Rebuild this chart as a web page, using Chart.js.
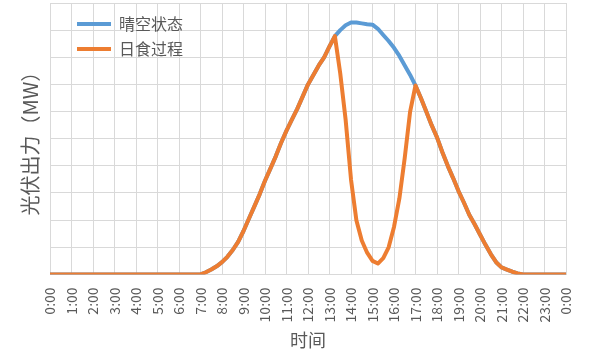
<!DOCTYPE html>
<html>
<head>
<meta charset="utf-8">
<script src="https://cdn.jsdelivr.net/npm/chart.js@4/dist/chart.umd.min.js"></script>
<style>
  html, body { margin: 0; padding: 0; background: #ffffff; }
  #c { display: block; }
</style>
</head>
<body>
<canvas id="c" width="600" height="357"></canvas>
<script>
// Time of day in hours (x values)
const times = [0,1,2,3,4,5,6,7,
  7.25,7.5,7.75,8,8.25,8.5,8.75,9,9.25,9.5,9.75,10,10.25,10.5,10.75,11,
  11.25,11.5,11.75,12,12.25,12.5,12.75,13,13.25,13.5,13.75,14,14.25,14.5,14.75,15,
  15.25,15.5,15.75,16,16.25,16.5,16.75,17,17.25,17.5,17.75,18,18.25,18.5,18.75,19,
  19.25,19.5,19.75,20,20.25,20.5,20.75,21,21.25,21.5,21.75,22,23,24];

// Clear-sky PV output (grid units)
const clearSky = [0,0,0,0,0,0,0,0,
  0.08,0.18,0.3,0.45,0.65,0.9,1.2,1.6,2.05,2.5,2.95,3.45,3.9,4.35,4.85,5.3,
  5.7,6.1,6.55,7.0,7.35,7.7,8.0,8.4,8.78,9.0,9.18,9.28,9.28,9.25,9.22,9.2,
  9.05,8.82,8.6,8.35,8.05,7.7,7.35,6.96,6.5,6.0,5.5,5.05,4.5,4.0,3.55,3.07,
  2.65,2.2,1.85,1.47,1.1,0.75,0.45,0.26,0.18,0.1,0.04,0,0,0];

// PV output during the solar eclipse (grid units)
const eclipse = [0,0,0,0,0,0,0,0,
  0.08,0.18,0.3,0.45,0.65,0.9,1.2,1.6,2.05,2.5,2.95,3.45,3.9,4.35,4.85,5.3,
  5.7,6.1,6.55,7.0,7.35,7.7,8.0,8.4,8.78,7.4,5.7,3.5,2.0,1.25,0.8,0.5,
  0.4,0.6,1.0,1.75,2.8,4.3,6.0,6.96,6.5,6.0,5.5,5.05,4.5,4.0,3.55,3.07,
  2.65,2.2,1.85,1.47,1.1,0.75,0.45,0.26,0.18,0.1,0.04,0,0,0];

const hourLabels = ['0:00','1:00','2:00','3:00','4:00','5:00','6:00','7:00','8:00','9:00',
  '10:00','11:00','12:00','13:00','14:00','15:00','16:00','17:00','18:00','19:00',
  '20:00','21:00','22:00','23:00','0:00'];

const seriesNames = ['晴空状态', '日食过程'];
const yTitle = '光伏出力（MW）';
const xTitle = '时间';

const FONT = "'Noto Sans CJK SC', 'Noto Sans', sans-serif";
const TEXT = '#595959';
const GRID = '#d9d9d9';
const BLUE = '#5B9BD5';
const ORANGE = '#ED7D31';

const toPts = (vals) => times.map((t, i) => ({ x: t, y: vals[i] }));

const legendOffset = {
  id: 'legendOffset',
  afterLayout(chart) {
    const l = chart.legend;
    if (l) { l.left += 18; l.top += 7; }
  }
};

new Chart(document.getElementById('c'), {
  type: 'line',
  data: {
    datasets: [
      {
        label: seriesNames[0],
        data: toPts(clearSky),
        borderColor: BLUE,
        backgroundColor: BLUE,
        borderWidth: 4,
        pointRadius: 0,
        tension: 0,
        borderJoinStyle: 'round',
        borderCapStyle: 'round',
        order: 2
      },
      {
        label: seriesNames[1],
        data: toPts(eclipse),
        borderColor: ORANGE,
        backgroundColor: ORANGE,
        borderWidth: 4,
        pointRadius: 0,
        tension: 0,
        borderJoinStyle: 'round',
        borderCapStyle: 'round',
        order: 1
      }
    ]
  },
  options: {
    responsive: false,
    animation: false,
    events: [],
    layout: { padding: { left: 0, right: 34, top: 3, bottom: 0 } },
    plugins: {
      tooltip: { enabled: false },
      legend: {
        position: 'chartArea',
        align: 'start',
        labels: {
          usePointStyle: true,
          pointStyle: 'line',
          pointStyleWidth: 34,
          boxHeight: 4,
          padding: 9,
          color: TEXT,
          font: { family: FONT, size: 16 },
          sort: (a, b) => a.datasetIndex - b.datasetIndex
        }
      }
    },
    scales: {
      x: {
        type: 'linear',
        min: 0,
        max: 24,
        grid: { color: GRID, lineWidth: 1, drawTicks: false },
        border: { color: GRID },
        ticks: {
          stepSize: 1,
          autoSkip: false,
          maxRotation: 90,
          minRotation: 90,
          padding: 13,
          color: TEXT,
          font: { family: FONT, size: 14 },
          callback: (v, i) => hourLabels[i]
        },
        title: {
          display: true,
          text: xTitle,
          color: TEXT,
          font: { family: FONT, size: 18 },
          padding: { top: -6, bottom: 6 }
        }
      },
      y: {
        min: 0,
        max: 10,
        grid: { color: GRID, lineWidth: 1, drawTicks: false },
        border: { color: GRID },
        ticks: { stepSize: 1, display: false },
        title: {
          display: true,
          text: yTitle,
          color: TEXT,
          font: { family: FONT, size: 20 },
          padding: { top: 18, bottom: 8 }
        }
      }
    }
  },
  plugins: [legendOffset]
});
</script>
</body>
</html>
